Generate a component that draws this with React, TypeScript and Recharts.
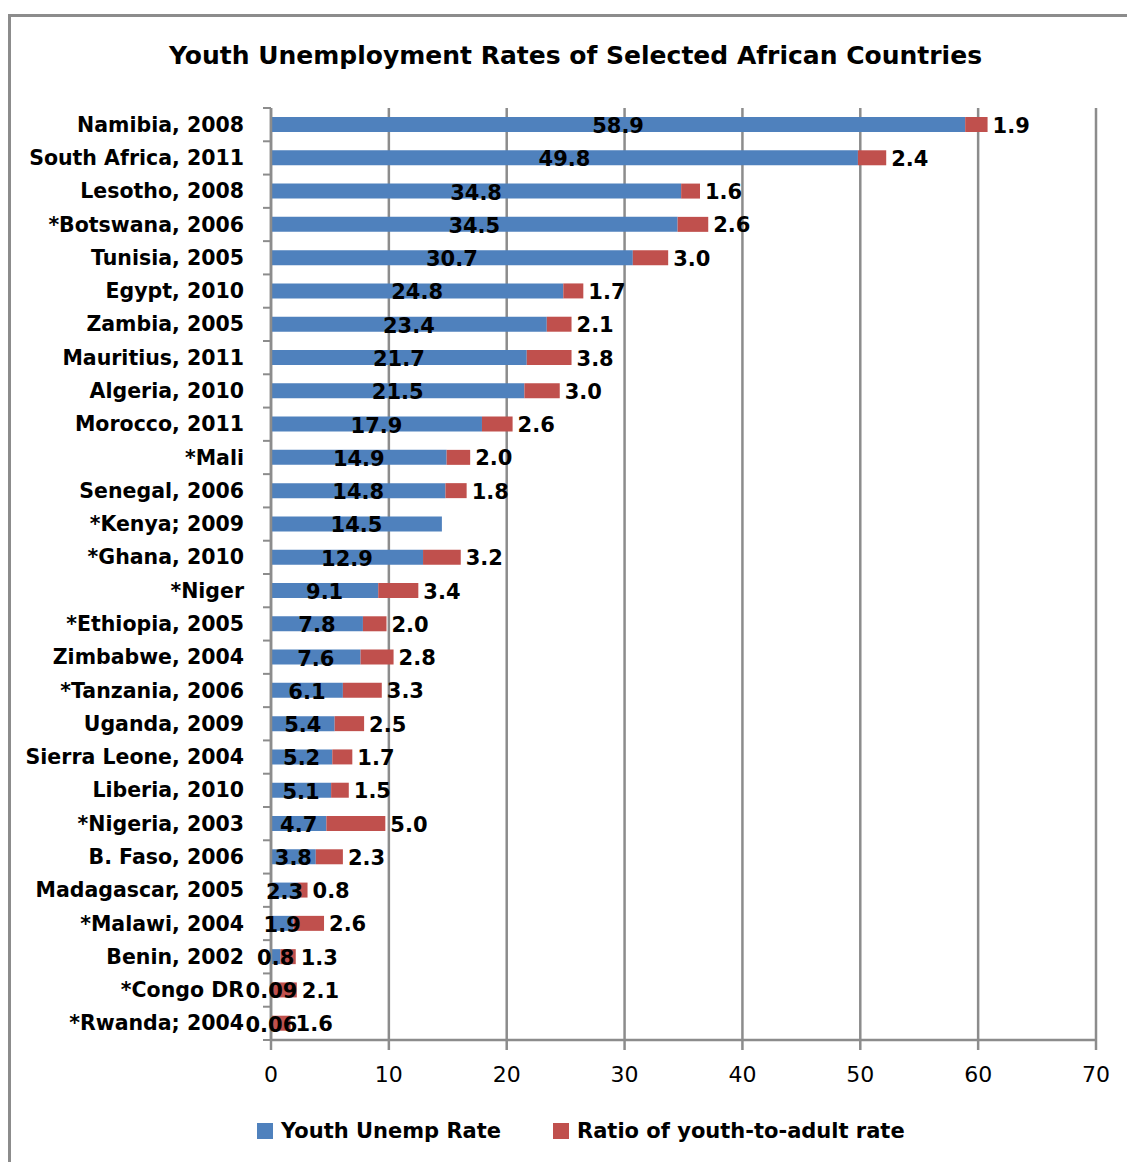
import { Bar, BarChart, CartesianGrid, LabelList, Legend, XAxis, YAxis } from "recharts";

const countries = [
	"Namibia, 2008",
	"South Africa, 2011",
	"Lesotho, 2008",
	"*Botswana, 2006",
	"Tunisia, 2005",
	"Egypt, 2010",
	"Zambia, 2005",
	"Mauritius, 2011",
	"Algeria, 2010",
	"Morocco, 2011",
	"*Mali",
	"Senegal, 2006",
	"*Kenya; 2009",
	"*Ghana, 2010",
	"*Niger",
	"*Ethiopia, 2005",
	"Zimbabwe, 2004",
	"*Tanzania, 2006",
	"Uganda, 2009",
	"Sierra Leone, 2004",
	"Liberia, 2010",
	"*Nigeria, 2003",
	"B. Faso, 2006",
	"Madagascar, 2005",
	"*Malawi, 2004",
	"Benin, 2002",
	"*Congo DR",
	"*Rwanda; 2004",
];

const youthRate = [
	58.9, 49.8, 34.8, 34.5, 30.7, 24.8, 23.4, 21.7, 21.5, 17.9, 14.9, 14.8, 14.5, 12.9, 9.1, 7.8, 7.6,
	6.1, 5.4, 5.2, 5.1, 4.7, 3.8, 2.3, 1.9, 0.8, 0.09, 0.06,
];

const youthToAdult = [
	1.9, 2.4, 1.6, 2.6, 3.0, 1.7, 2.1, 3.8, 3.0, 2.6, 2.0, 1.8, null, 3.2, 3.4, 2.0, 2.8, 3.3, 2.5,
	1.7, 1.5, 5.0, 2.3, 0.8, 2.6, 1.3, 2.1, 1.6,
];

const xTicks = [0, 10, 20, 30, 40, 50, 60, 70];

const seriesNames = ["Youth Unemp Rate", "Ratio of youth-to-adult rate"];

const chartData = countries.map((name, i) => ({
	name,
	youth: youthRate[i],
	ratio: youthToAdult[i],
}));

const FONT = "'DejaVu Sans', Verdana, sans-serif";
const BLUE = "#4F81BD";
const RED = "#C0504D";
const GRID = "#8c8c8c";

const PLOT_TOP = 108;
const PLOT_BOTTOM = 1040;
const BAND = (PLOT_BOTTOM - PLOT_TOP) / countries.length;

function CategoryTick(props: any) {
	const { x, y, payload, index } = props;
	return (
		<g>
			{index === 0 && (
				<line x1={x - 8} x2={x} y1={y - BAND / 2} y2={y - BAND / 2} stroke={GRID} strokeWidth={2} />
			)}
			<line x1={x - 8} x2={x} y1={y + BAND / 2} y2={y + BAND / 2} stroke={GRID} strokeWidth={2} />
			<text
				x={x - 27}
				y={y}
				textAnchor="end"
				dominantBaseline="central"
				fontFamily={FONT}
				fontWeight={700}
				fontSize={20.5}
				fill="#000"
			>
				{payload.value}
			</text>
		</g>
	);
}

function CenterLabel(props: any) {
	const { x, y, width, height, value } = props;
	if (value == null) return null;
	return (
		<text
			x={x + width / 2}
			y={y + height / 2 + 1.5}
			textAnchor="middle"
			dominantBaseline="central"
			fontFamily={FONT}
			fontWeight={700}
			fontSize={21}
			fill="#000"
		>
			{String(value)}
		</text>
	);
}

function EndLabel(props: any) {
	const { x, y, width, height, value } = props;
	if (value == null) return null;
	return (
		<text
			x={x + width + 5}
			y={y + height / 2 + 1}
			textAnchor="start"
			dominantBaseline="central"
			fontFamily={FONT}
			fontWeight={700}
			fontSize={21}
			fill="#000"
		>
			{Number(value).toFixed(1)}
		</text>
	);
}

const legendItems = [
	{ name: seriesNames[0], color: BLUE, left: 257 },
	{ name: seriesNames[1], color: RED, left: 553 },
];

function LegendContent() {
	return (
		<div style={{ position: "relative", height: 30, width: 1127 }}>
			{legendItems.map((item) => (
				<div
					key={item.name}
					style={{
						position: "absolute",
						left: item.left,
						top: 0,
						height: 30,
						display: "flex",
						alignItems: "center",
						fontFamily: FONT,
						fontWeight: 700,
						fontSize: 21,
						color: "#000",
						whiteSpace: "nowrap",
					}}
				>
					<span style={{ display: "inline-block", width: 16, height: 16, background: item.color, marginRight: 8 }} />
					{item.name}
				</div>
			))}
		</div>
	);
}

export default function App() {
	return (
		<div style={{ position: "absolute", left: 0, top: 0, width: 1127, height: 1162, background: "#fff", overflow: "hidden" }}>
			<div
				style={{
					position: "absolute",
					left: 8,
					top: 14,
					width: 1200,
					height: 1200,
					borderTop: `3px solid ${GRID}`,
					borderLeft: `3px solid ${GRID}`,
				}}
			/>
			<div
				style={{
					position: "absolute",
					left: 16,
					top: 38,
					width: 1119,
					textAlign: "center",
					fontFamily: FONT,
					fontWeight: 700,
					fontSize: 25,
					lineHeight: "36px",
					color: "#000",
					whiteSpace: "nowrap",
				}}
			>
				Youth Unemployment Rates of Selected African Countries
			</div>
			<div style={{ position: "absolute", left: 0, top: 0 }}>
				<BarChart
					width={1127}
					height={1162}
					data={chartData}
					layout="vertical"
					barSize={15}
					margin={{ top: PLOT_TOP, right: 31, bottom: 40, left: 0 }}
				>
					<CartesianGrid horizontal={false} stroke={GRID} strokeWidth={2.5} />
					<XAxis
						type="number"
						domain={[0, 70]}
						ticks={xTicks}
						interval={0}
						height={52}
						stroke={GRID}
						strokeWidth={2.5}
						tickSize={10}
						tickMargin={16}
						tick={{ fill: "#000", fontFamily: FONT, fontSize: 22 }}
					/>
					<YAxis
						type="category"
						dataKey="name"
						width={271}
						interval={0}
						tickLine={false}
						tickSize={0}
						tickMargin={0}
						stroke={GRID}
						strokeWidth={2.5}
						tick={<CategoryTick />}
					/>
					<Legend
						verticalAlign="bottom"
						content={<LegendContent />}
						wrapperStyle={{ left: 0, top: 1116, bottom: "auto", width: 1127, height: 30 }}
					/>
					<Bar dataKey="youth" name={seriesNames[0]} stackId="a" fill={BLUE} isAnimationActive={false}>
						<LabelList dataKey="youth" content={<CenterLabel />} />
					</Bar>
					<Bar dataKey="ratio" name={seriesNames[1]} stackId="a" fill={RED} isAnimationActive={false}>
						<LabelList dataKey="ratio" content={<EndLabel />} />
					</Bar>
				</BarChart>
			</div>
		</div>
	);
}
